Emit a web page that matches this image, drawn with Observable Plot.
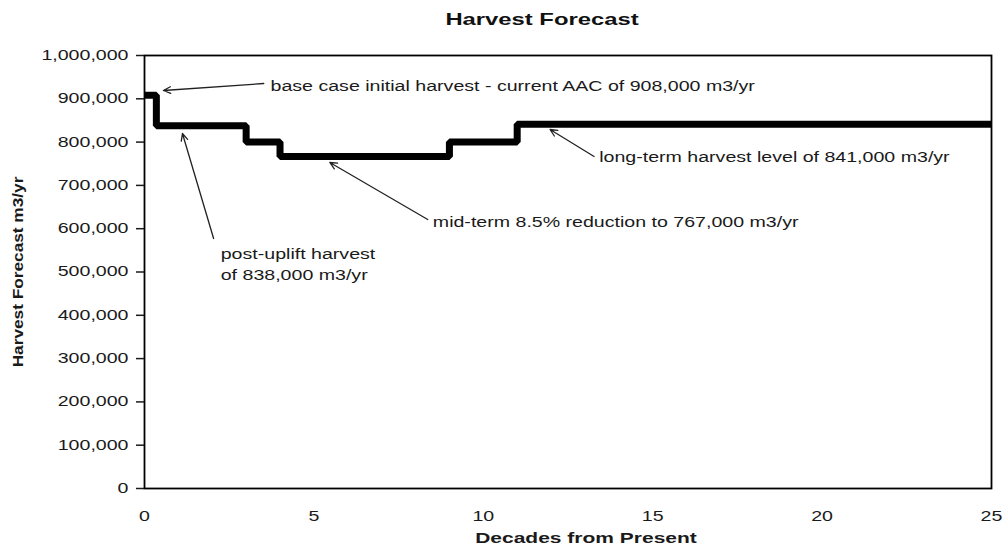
<!DOCTYPE html>
<html><head><meta charset="utf-8">
<script src="https://cdn.jsdelivr.net/npm/d3@7"></script>
<script src="https://cdn.jsdelivr.net/npm/@observablehq/plot@0.6"></script>
<style>
body{margin:0;background:#fff;font-family:"Liberation Sans",Arial,sans-serif;}
#wrap{position:relative;width:1003px;height:550px;overflow:hidden;}
#title{position:absolute;left:542px;top:0;height:40px;line-height:40px;font-weight:bold;font-size:17px;color:#111;transform:translateX(-50%) scaleX(1.4);white-space:nowrap;}
#chart{position:absolute;left:0;top:40px;}
</style></head>
<body>
<div id="wrap"><div id="title">Harvest Forecast</div><div id="chart"></div></div>
<script>
// Step series: decades from present and harvest level (m3/yr)
const decades = [0, 0.35, 3, 4, 9, 11, 25];
const harvest = [908000, 838000, 800000, 767000, 800000, 841000, 841000];

const xTicks = [0, 5, 10, 15, 20, 25];
const yTicks = [0, 100000, 200000, 300000, 400000, 500000, 600000, 700000, 800000, 900000, 1000000];

const xTitle = "Decades from Present";
const yTitle = "Harvest Forecast m3/yr";

// Annotations (data coordinates)
const noteText = [
  "base case initial harvest - current AAC of 908,000 m3/yr",
  "post-uplift harvest\nof 838,000 m3/yr",
  "mid-term 8.5% reduction to 767,000 m3/yr",
  "long-term harvest level of 841,000 m3/yr"
];
const noteX = [3.72, 2.25, 8.51, 13.42];
const noteY = [933000, 520800, 619000, 769100];
const arrowFromX = [3.52, 2.04, 8.36, 13.27];
const arrowFromY = [935300, 577400, 621300, 766800];
const arrowToX = [0.56, 1.12, 5.47, 11.97];
const arrowToY = [919200, 819900, 752900, 829100];

const series = decades.map((d, i) => ({decade: d, harvest: harvest[i]}));
const notes = noteText.map((t, i) => ({text: t, x: noteX[i], y: noteY[i]}));
const arrows = arrowFromX.map((d, i) => ({x1: d, y1: arrowFromY[i], x2: arrowToX[i], y2: arrowToY[i]}));

const chart = Plot.plot({
  width: 1003,
  height: 510,
  marginTop: 15,
  marginBottom: 62,
  marginLeft: 144,
  marginRight: 12,
  style: {fontFamily: '"Liberation Sans", Arial, sans-serif', fontSize: "14px", color: "#1a1a1a", background: "#fff", overflow: "visible"},
  x: {domain: [0, 25]},
  y: {domain: [0, 1000000]},
  marks: [
    Plot.line(series, {x: "decade", y: "harvest", curve: "step-after", stroke: "black", strokeWidth: 7, strokeLinecap: "butt", strokeLinejoin: "miter"}),
    Plot.frame({stroke: "black", strokeWidth: 1.8}),
    Plot.axisY(yTicks, {tickSize: 8, tickPadding: 8, tickFormat: d3.format(","), label: null, fontSize: 14, strokeWidth: 1.5}),
    Plot.axisX(xTicks, {tickSize: 0, tickPadding: 23, label: null, fontSize: 14}),
    Plot.text([yTitle], {frameAnchor: "left", textAnchor: "middle", rotate: -90, dx: -126, fontWeight: "bold", fontSize: 15}),
    Plot.text([xTitle], {frameAnchor: "bottom", textAnchor: "middle", dy: 54, dx: 18, fontWeight: "bold", fontSize: 15}),
    Plot.arrow(arrows, {x1: "x1", y1: "y1", x2: "x2", y2: "y2", stroke: "#222", strokeWidth: 1.3, headLength: 9, headAngle: 50}),
    Plot.text(notes, {x: "x", y: "y", text: "text", textAnchor: "start", lineAnchor: "middle", lineHeight: 1.5, fontSize: 14, fill: "#1a1a1a"})
  ]
});
document.getElementById("chart").appendChild(chart);

// widen glyphs horizontally to match the reference's wide rendering
chart.querySelectorAll("text").forEach(t => {
  const tr = t.getAttribute("transform");
  const s = tr && tr.includes("rotate") ? 1.15 : 1.4;
  if (tr) t.setAttribute("transform", tr + ` scale(${s},1)`);
  else {
    const x = +t.getAttribute("x") || 0, y = +t.getAttribute("y") || 0;
    t.setAttribute("transform", `translate(${x},${y}) scale(${s},1) translate(${-x},${-y})`);
  }
});
</script>
</body></html>
